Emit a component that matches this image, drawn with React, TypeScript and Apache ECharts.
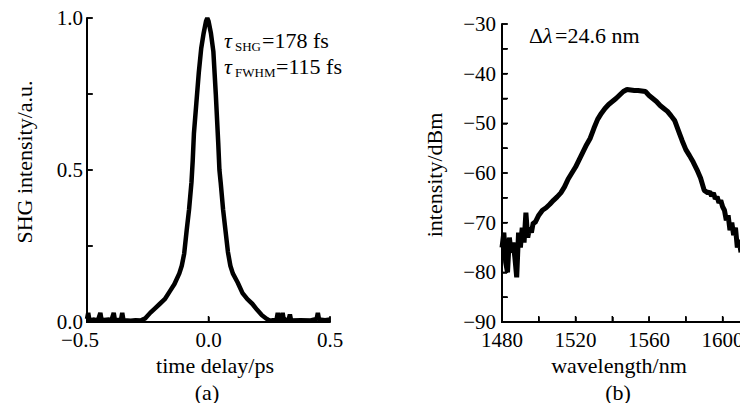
import React, { useEffect, useRef } from "react";
import * as echarts from "echarts";

// Panel (a): SHG autocorrelation trace
const delayPs: number[] = [
  -0.5, -0.495, -0.49, -0.47, -0.455, -0.445, -0.44, -0.41, -0.4, -0.39, -0.385, -0.36, -0.355, -0.35,
  -0.32, -0.3, -0.28, -0.26, -0.24, -0.22, -0.2, -0.18, -0.16, -0.14, -0.12, -0.11, -0.1, -0.09, -0.08,
  -0.07, -0.065, -0.06, -0.05, -0.04, -0.03, -0.02, -0.01, -0.005, 0.0, 0.01, 0.02, 0.03, 0.04, 0.045,
  0.05, 0.06, 0.07, 0.08, 0.09, 0.1, 0.12, 0.14, 0.16, 0.18, 0.2, 0.22, 0.24, 0.25, 0.26, 0.28, 0.285,
  0.29, 0.3, 0.305, 0.31, 0.33, 0.335, 0.34, 0.38, 0.42, 0.445, 0.45, 0.455, 0.48, 0.5,
];
const shgIntensity: number[] = [
  0.01, 0.03, 0.005, 0.008, 0.005, 0.03, 0.006, 0.008, 0.004, 0.03, 0.005, 0.008, 0.03, 0.006,
  0.004, 0.006, 0.005, 0.012, 0.03, 0.045, 0.06, 0.075, 0.1, 0.125, 0.16, 0.185, 0.225, 0.3, 0.37,
  0.46, 0.53, 0.62, 0.72, 0.82, 0.9, 0.95, 0.99, 1.0, 0.99, 0.95, 0.89, 0.75, 0.59, 0.5,
  0.46, 0.37, 0.3, 0.23, 0.185, 0.16, 0.13, 0.095, 0.075, 0.06, 0.04, 0.022, 0.01, 0.005, 0.005, 0.008, 0.03,
  0.005, 0.01, 0.03, 0.006, 0.008, 0.025, 0.005, 0.006, 0.005, 0.01, 0.03, 0.008, 0.006, 0.008,
];
const delayTicks: number[] = [-0.5, 0, 0.5];
const shgTicks: number[] = [0, 0.5, 1];
const shgMinorTicks: number[] = [0, 0.25, 0.5, 0.75, 1];

// Panel (b): optical spectrum
const wavelengthNm: number[] = [
  1480, 1481, 1482, 1483, 1484, 1485, 1486, 1487, 1488, 1489, 1490, 1491, 1492, 1493, 1494, 1495, 1496,
  1497, 1498, 1500, 1502, 1504, 1506, 1508, 1510, 1512, 1514, 1516, 1518, 1520, 1522, 1524, 1526, 1528,
  1530, 1532, 1534, 1536, 1538, 1540, 1542, 1544, 1546, 1548, 1550, 1552, 1554, 1556, 1558, 1560, 1562,
  1564, 1566, 1568, 1570, 1572, 1574, 1576, 1578, 1580, 1582, 1584, 1586, 1588, 1590, 1592, 1593, 1594,
  1595, 1596, 1597, 1598, 1599, 1600, 1601, 1602, 1603, 1604, 1605, 1606, 1607, 1608, 1609, 1610,
];
const spectrumDbm: number[] = [
  -75, -72, -78, -80, -73, -76, -74, -77, -81, -72, -75, -71, -74, -68, -73, -71, -72,
  -70, -70, -68.5, -67.5, -67, -66.3, -65.5, -64.8, -64, -62.8, -61.2, -60, -58.8, -57.3, -55.8, -54.3, -53,
  -51, -49.2, -48, -47, -46.2, -45.6, -45, -44.3, -43.6, -43.2, -43.3, -43.4, -43.4, -43.5, -43.6, -44.4, -45,
  -45.6, -46.4, -47, -47.6, -48.5, -49.5, -51.5, -53.5, -55.3, -56.5, -57.8, -59.3, -61, -63.5, -64, -63.8, -64.6,
  -64, -65.2, -64.8, -66, -65.5, -66.8, -67.5, -69.5, -68.5, -71.5, -70, -72.5, -71, -75, -73.5, -76,
];
const wavelengthTicks: number[] = [1480, 1520, 1560, 1600];
const wavelengthMinorTicks: number[] = [1480, 1500, 1520, 1540, 1560, 1580, 1600];
const dbmTicks: number[] = [-90, -80, -70, -60, -50, -40, -30];
const dbmMinorTicks: number[] = [-90, -85, -80, -75, -70, -65, -60, -55, -50, -45, -40, -35, -30];

const FONT = "Liberation Serif";
const INK = "rgb(0,0,0)";
const minus = (s: string) => s.replace("-", "\u2212");

const axisLine = () => ({ show: true, onZero: false, lineStyle: { color: INK, width: 2, opacity: 1 } });
const axisTick = (vals: number[]) => ({
  show: true,
  inside: true,
  length: 5,
  customValues: vals,
  lineStyle: { color: INK, width: 1.5, opacity: 1 },
});
const labelBase = () => ({ color: "#000", fontFamily: FONT, fontSize: 21 });

const txt = (text: string, x: number, y: number, size: number, opts: any = {}) => ({
  type: "text",
  x,
  y,
  rotation: opts.rotation || 0,
  style: {
    text,
    fontFamily: FONT,
    fontSize: size,
    fontStyle: opts.italic ? "italic" : "normal",
    fill: "#000",
    textAlign: opts.align || "left",
    align: opts.align || "left",
    textVerticalAlign: "middle",
    verticalAlign: "middle",
  },
});

const textsA = [
  txt("SHG intensity/a.u.", 24, 162, 22, { align: "center", rotation: Math.PI / 2 }),
  txt("time delay/ps", 215, 365, 22, { align: "center" }),
  txt("(a)", 207, 392, 22, { align: "center" }),
  txt("\u03c4", 224, 40, 22, { italic: true }),
  txt("SHG", 235, 46.5, 13),
  txt("=178 fs", 262, 40, 22),
  txt("\u03c4", 224, 66, 22, { italic: true }),
  txt("FWHM", 235, 72.5, 13),
  txt("=115 fs", 276, 66, 22),
];

const textsB = [
  txt("intensity/dBm", 434, 175, 22, { align: "center", rotation: Math.PI / 2 }),
  txt("wavelength/nm", 619, 365, 22, { align: "center" }),
  txt("(b)", 618, 392, 22, { align: "center" }),
  txt("\u0394", 529, 35, 22),
  txt("\u03bb", 543, 35, 22, { italic: true }),
  txt("=24.6 nm", 555, 35, 22),
];

const optionA = () => ({
  animation: false,
  grid: [{ left: 87, top: 18, width: 243, height: 304, outerBoundsMode: "none" }],
  xAxis: [
    {
      type: "value",
      min: -0.5,
      max: 0.5,
      axisLine: axisLine(),
      axisTick: axisTick(delayTicks),
      splitLine: { show: false },
      axisLabel: {
        ...labelBase(),
        margin: 7,
        customValues: delayTicks,
        formatter: (v: number) => (v < 0 ? `{neg|${minus(v.toFixed(1))}}` : v.toFixed(1)),
        rich: { neg: { ...labelBase(), padding: [0, 14, 0, 0] } },
      },
    },
  ],
  yAxis: [
    {
      type: "value",
      min: 0,
      max: 1,
      axisLine: axisLine(),
      axisTick: axisTick(shgMinorTicks),
      splitLine: { show: false },
      axisLabel: {
        ...labelBase(),
        margin: 4,
        customValues: shgTicks,
        formatter: (v: number) => v.toFixed(1),
      },
    },
  ],
  series: [
    {
      type: "line",
      showSymbol: false,
      clip: false,
      lineStyle: { color: "#000", width: 4.5 },
      data: delayPs.map((x, i) => [x, shgIntensity[i]]),
    },
  ],
  graphic: textsA,
});

const optionB = () => ({
  animation: false,
  grid: [{ left: 502, top: 24, width: 239, height: 298, outerBoundsMode: "none" }],
  xAxis: [
    {
      type: "value",
      min: 1480,
      max: 1610,
      axisLine: axisLine(),
      axisTick: axisTick(wavelengthMinorTicks),
      splitLine: { show: false },
      axisLabel: {
        ...labelBase(),
        margin: 7,
        customValues: wavelengthTicks,
        formatter: (v: number) => String(v),
      },
    },
  ],
  yAxis: [
    {
      type: "value",
      min: -90,
      max: -30,
      axisLine: axisLine(),
      axisTick: axisTick(dbmMinorTicks),
      splitLine: { show: false },
      axisLabel: {
        ...labelBase(),
        margin: 6,
        customValues: dbmTicks,
        formatter: (v: number) => minus(String(v)),
      },
    },
  ],
  series: [
    {
      type: "line",
      showSymbol: false,
      lineStyle: { color: "#000", width: 5 },
      data: wavelengthNm.map((x, i) => [x, spectrumDbm[i]]),
    },
  ],
  graphic: textsB,
});

// Frame (axis lines + inward ticks) as filled rects, placed through the chart's own scales.
const frameFor = (
  chart: any,
  xr: [number, number],
  yr: [number, number],
  xt: number[],
  yt: number[]
) => {
  const out: any[] = [];
  const p = (x: number, y: number) => chart.convertToPixel({ gridIndex: 0 }, [x, y]) as number[];
  const o = p(xr[0], yr[0]);
  const xe = p(xr[1], yr[0]);
  const ye = p(xr[0], yr[1]);
  if (!o || !xe || !ye) return out;
  const fill = { fill: INK };
  out.push({ type: "rect", z: 60, shape: { x: o[0] - 1, y: o[1] - 1, width: xe[0] - o[0] + 1, height: 2 }, style: fill });
  out.push({ type: "rect", z: 60, shape: { x: o[0] - 1, y: ye[1], width: 2, height: o[1] - ye[1] + 1 }, style: fill });
  xt.forEach((v) => {
    const q = p(v, yr[0]);
    out.push({ type: "rect", z: 60, shape: { x: q[0] - 0.75, y: q[1] - 6, width: 1.5, height: 6 }, style: fill });
  });
  yt.forEach((v) => {
    const q = p(xr[0], v);
    out.push({ type: "rect", z: 60, shape: { x: q[0], y: q[1] - 0.75, width: 6, height: 1.5 }, style: fill });
  });
  return out;
};

const App: React.FC = () => {
  const refA = useRef<HTMLDivElement>(null);
  const refB = useRef<HTMLDivElement>(null);

  useEffect(() => {
    if (!refA.current || !refB.current) return;
    const a = echarts.init(refA.current, undefined, { renderer: "svg" });
    const b = echarts.init(refB.current, undefined, { renderer: "svg" });
    try {
      a.setOption(optionA());
    } catch (e) {
      /* keep going */
    }
    try {
      b.setOption(optionB());
    } catch (e) {
      /* keep going */
    }
    try {
      a.setOption({ graphic: [...textsA, ...frameFor(a, [-0.5, 0.5], [0, 1], delayTicks, shgMinorTicks)] });
    } catch (e) {
      /* ignore */
    }
    try {
      b.setOption({
        graphic: [...textsB, ...frameFor(b, [1480, 1610], [-90, -30], wavelengthMinorTicks, dbmMinorTicks)],
      });
    } catch (e) {
      /* ignore */
    }
    return () => {
      a.dispose();
      b.dispose();
    };
  }, []);

  return (
    <div style={{ position: "fixed", left: 0, top: 0, width: 740, height: 403, background: "#fff" }}>
      <div ref={refA} style={{ position: "absolute", left: 0, top: 0, width: 740, height: 403 }} />
      <div ref={refB} style={{ position: "absolute", left: 0, top: 0, width: 740, height: 403 }} />
    </div>
  );
};

export default App;
